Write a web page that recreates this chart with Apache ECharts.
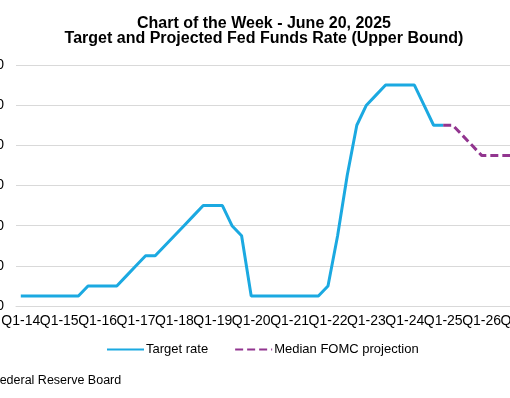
<!DOCTYPE html>
<html>
<head>
<meta charset="utf-8">
<script src="https://cdn.jsdelivr.net/npm/echarts@6/dist/echarts.min.js"></script>
<style>
html,body{margin:0;padding:0;background:#fff;}
#chart{width:510px;height:398px;}
</style>
</head>
<body>
<div id="chart"></div>
<script>
// Quarterly categories Q1-14 .. Q1-27
const categories = [];
for (let y = 14; y <= 27; y++) {
  for (let q = 1; q <= 4; q++) {
    if (y === 27 && q > 1) break;
    categories.push('Q' + q + '-' + y);
  }
}

// Target rate (upper bound), Q1-14 .. Q1-25
const targetRate = [
  0.25, 0.25, 0.25, 0.25,   // 2014
  0.25, 0.25, 0.25, 0.50,   // 2015
  0.50, 0.50, 0.50, 0.75,   // 2016
  1.00, 1.25, 1.25, 1.50,   // 2017
  1.75, 2.00, 2.25, 2.50,   // 2018
  2.50, 2.50, 2.00, 1.75,   // 2019
  0.25, 0.25, 0.25, 0.25,   // 2020
  0.25, 0.25, 0.25, 0.25,   // 2021
  0.50, 1.75, 3.25, 4.50,   // 2022
  5.00, 5.25, 5.50, 5.50,   // 2023
  5.50, 5.50, 5.00, 4.50,   // 2024
  4.50                      // Q1-25
];

// Median FOMC projection, Q1-25 .. Q4-26
const projStartIndex = 44;
const fomcProjection = [4.50, 4.50, 4.25, 4.00, 3.75, 3.75, 3.75, 3.75];

const yTicks = [0, 1, 2, 3, 4, 5, 6];

const targetSeries = categories.map((c, i) => i < targetRate.length ? targetRate[i] : null);
const projSeries = categories.map((c, i) => {
  const j = i - projStartIndex;
  return (j >= 0 && j < fomcProjection.length) ? fomcProjection[j] : null;
});

const chart = echarts.init(document.getElementById('chart'), null, {renderer: 'canvas'});
const FONT = '"Liberation Sans", Arial, sans-serif';

chart.setOption({
  animation: false,
  backgroundColor: '#ffffff',
  textStyle: {fontFamily: FONT},
  title: {
    text: 'Chart of the Week - June 20, 2025\nTarget and Projected Fed Funds Rate (Upper Bound)',
    left: 264,
    top: 15.5,
    padding: 0,
    textAlign: 'center',
    textStyle: {fontFamily: FONT, fontSize: 16, fontWeight: 'bold', color: '#000', lineHeight: 15.5}
  },
  legend: {
    left: 106,
    top: 343,
    padding: 0,
    itemWidth: 37,
    itemHeight: 14,
    itemGap: 26,
    itemStyle: {opacity: 0},
    textStyle: {fontFamily: FONT, fontSize: 13, color: '#000', padding: [0, 0, 0, -3]},
    data: ['Target rate', 'Median FOMC projection']
  },
  grid: {left: 16, right: -14.8, top: 65, bottom: 92, containLabel: false, outerBoundsMode: 'none'},
  xAxis: {
    type: 'category',
    data: categories,
    boundaryGap: true,
    axisLine: {show: true, lineStyle: {color: '#d9d9d9', width: 1}},
    axisTick: {show: false},
    axisLabel: {interval: 0, margin: 8, fontSize: 14, color: '#000', fontFamily: FONT,
      hideOverlap: false, showMinLabel: true, showMaxLabel: true,
      formatter: (v, i) => (i % 4 === 0 ? v : '')}
  },
  yAxis: {
    type: 'value',
    min: yTicks[0],
    max: yTicks[yTicks.length - 1],
    interval: 1,
    axisLine: {show: false},
    axisTick: {show: false},
    axisLabel: {margin: 12, fontSize: 14, color: '#000', fontFamily: FONT,
      showMinLabel: true, showMaxLabel: true, hideOverlap: false,
      formatter: v => v.toFixed(2)},
    splitLine: {lineStyle: {color: '#d9d9d9', width: 1}}
  },
  graphic: [{
    type: 'text',
    left: -8,
    top: 374,
    style: {text: 'Federal Reserve Board', fontFamily: FONT, fontSize: 12.5, fill: '#000'}
  }],
  series: [
    {
      name: 'Target rate',
      type: 'line',
      data: targetSeries,
      symbol: 'none',
      connectNulls: false,
      lineStyle: {color: '#1BA9E1', width: 3},
      itemStyle: {color: '#1BA9E1'},
      z: 2
    },
    {
      name: 'Median FOMC projection',
      type: 'line',
      data: projSeries,
      symbol: 'none',
      lineStyle: {color: '#92358F', width: 3, type: [8, 4]},
      itemStyle: {color: '#92358F'},
      z: 3
    }
  ]
});
</script>
</body>
</html>
